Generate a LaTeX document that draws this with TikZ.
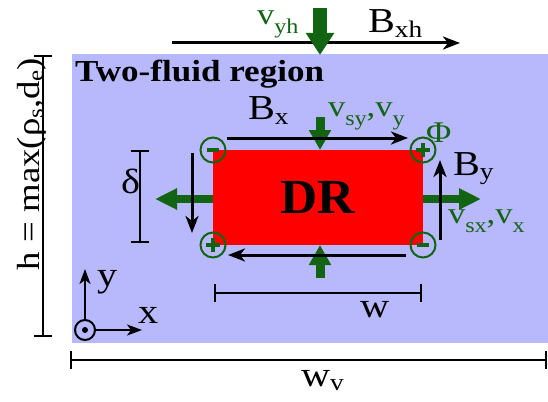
\documentclass[tikz,border=0pt]{standalone}
\usepackage{fontspec}
\usepackage{graphicx}
\setmainfont{Liberation Serif}[FakeStretch=1.15]
\newfontfamily\drfont{Liberation Serif}[FakeStretch=1.05]
\usetikzlibrary{arrows.meta, positioning}

\definecolor{regionblue}{RGB}{184,184,252}
\definecolor{flowgreen}{RGB}{18,100,18}
\newcommand{\gsub}[1]{\raisebox{-0.3em}{\scalebox{0.7}{#1}}}
\newcommand{\bsub}[1]{\raisebox{-0.12em}{\scalebox{0.68}{#1}}}
\newcommand{\plussign}[1]{\draw[sign] (#1.center) ++(-7,0) -- ++(14,0) (#1.center) ++(0,-7) -- ++(0,14);}
\newcommand{\minussign}[1]{\draw[sign] (#1.center) ++(-6,0) -- ++(12,0);}

\begin{document}
\begin{tikzpicture}[
    x=1pt, y=-1pt,
    every node/.style={inner sep=0pt, outer sep=0pt},
    lbl/.style={anchor=base west, font=\fontsize{35}{36}\selectfont},
    glbl/.style={anchor=base west, font=\fontsize{30}{32}\selectfont, text=flowgreen},
    field/.style={-{Stealth[length=17pt, width=13pt, inset=5pt]}, line width=3pt},
    axis/.style={-{Stealth[length=15pt, width=11pt, inset=4pt]}, line width=2pt},
    bigflow/.style={-{Triangle[length=22pt, width=27pt]}, line width=14pt, flowgreen},
    flow/.style={-{Triangle[length=20pt, width=21pt]}, line width=9pt, flowgreen},
    sideflow/.style={-{Triangle[length=22pt, width=20pt]}, line width=7.5pt, flowgreen},
    dim/.style={{Bar[width=18pt]}-{Bar[width=18pt]}, line width=1.6pt},
    charge/.style={circle, draw=flowgreen, line width=2pt, minimum size=25pt},
    sign/.style={flowgreen, line width=4.5pt}
]
\useasboundingbox (0,0) rectangle (548,401);

% ============ TWO-FLUID REGION ============
\node[fill=regionblue, minimum width=476pt, minimum height=289pt, anchor=north west] (region) at (72,54) {};
\node[anchor=base west, font=\bfseries\fontsize{30.5}{32}\selectfont] (title) at (75,82) {Two-fluid region};

% ============ OUTER INFLOW ============
\coordinate (bxhS) at (172,43);
\coordinate (bxhE) at (460,43);
\draw[field] (bxhS) -- (bxhE);
\node[lbl] (bxh) at (368,33) {B\bsub{xh}};

\coordinate (vyhS) at (320,8);
\coordinate (vyhE) at (320,55);
\draw[bigflow] (vyhS) -- (vyhE);
\node[glbl] (vyh) at (257,25) {v\gsub{yh}};

% ============ DIFFUSION REGION ============
\node[fill=red, minimum width=210pt, minimum height=95pt, font=\drfont\bfseries\fontsize{49}{50}\selectfont] (dr) at (318,197.5) {DR};

% Hall charges at the corners
\node[charge] (cNW) at (dr.north west) {};
\node[charge] (cNE) at (dr.north east) {};
\node[charge] (cSW) at (dr.south west) {};
\node[charge] (cSE) at (dr.south east) {};
\minussign{cNW}
\plussign{cNE}
\plussign{cSW}
\minussign{cSE}
\node[glbl] (phi) at (426,142) {Φ};

% Inflow and outflow
\coordinate (vinTop) at (320,117);
\coordinate (vinBot) at (320,278);
\coordinate (voutR) at (481,199);
\coordinate (voutL) at (155,199);
\draw[flow] (vinTop) -- (vinTop |- dr.north);
\draw[flow] (vinBot) -- (vinBot |- dr.south);
\draw[sideflow] (voutR -| dr.east) -- (voutR);
\draw[sideflow] (voutL -| dr.west) -- (voutL);
\node[glbl] (vsy) at (328,117) {v\gsub{sy},v\gsub{y}};
\node[glbl] (vsx) at (448,223) {v\gsub{sx},v\gsub{x}};

% Magnetic field around the DR
\coordinate (bxS) at (227,138);
\coordinate (bxE) at (408,138);
\coordinate (byS) at (440,240);
\coordinate (byE) at (440,160);
\coordinate (bbS) at (406,255);
\coordinate (bbE) at (228,255);
\coordinate (blS) at (192,153);
\coordinate (blE) at (192,233);
\draw[field] (bxS) -- (bxE);
\draw[field] (byS) -- (byE);
\draw[field] (bbS) -- (bbE);
\draw[field] (blS) -- (blE);
\node[lbl] (bx) at (248,120) {B\bsub{x}};
\node[lbl] (by) at (453,175) {B\bsub{y}};

% ============ DIMENSIONS ============
\coordinate (deltaT) at (140,150);
\coordinate (deltaB) at (140,243);
\draw[dim] (deltaT) -- (deltaB);
\node[lbl] (delta) at (121,193) {δ};

\coordinate (wL) at (214,293);
\coordinate (wR) at (422,293);
\draw[dim] (wL) -- (wR);
\node[lbl] (wlbl) at (360,317) {w};

\coordinate (wvL) at (70,360);
\coordinate (wvR) at (547,360);
\draw[dim] (wvL) -- (wvR);
\node[lbl] (wvlbl) at (301,386) {w\bsub{v}};

\coordinate (hT) at (43,55);
\coordinate (hB) at (43,337);
\draw[dim] (hT) -- (hB);
\node[lbl, rotate=90, font=\fontsize{32}{33}\selectfont] (hlbl) at (39,270) {h = max(ρ\bsub{s},d\bsub{e})};

% ============ AXES ============
\node[circle, draw, line width=2pt, minimum size=20pt] (origin) at (85,330) {};
\fill (origin.center) circle (3pt);
\coordinate (yaxisE) at (85,269);
\coordinate (xaxisE) at (142,330);
\draw[axis] (origin.north) -- (yaxisE);
\draw[axis] (origin.east) -- (xaxisE);
\node[lbl] (ylbl) at (97,286) {y};
\node[lbl] (xlbl) at (138,323) {x};

\end{tikzpicture}
\end{document}
